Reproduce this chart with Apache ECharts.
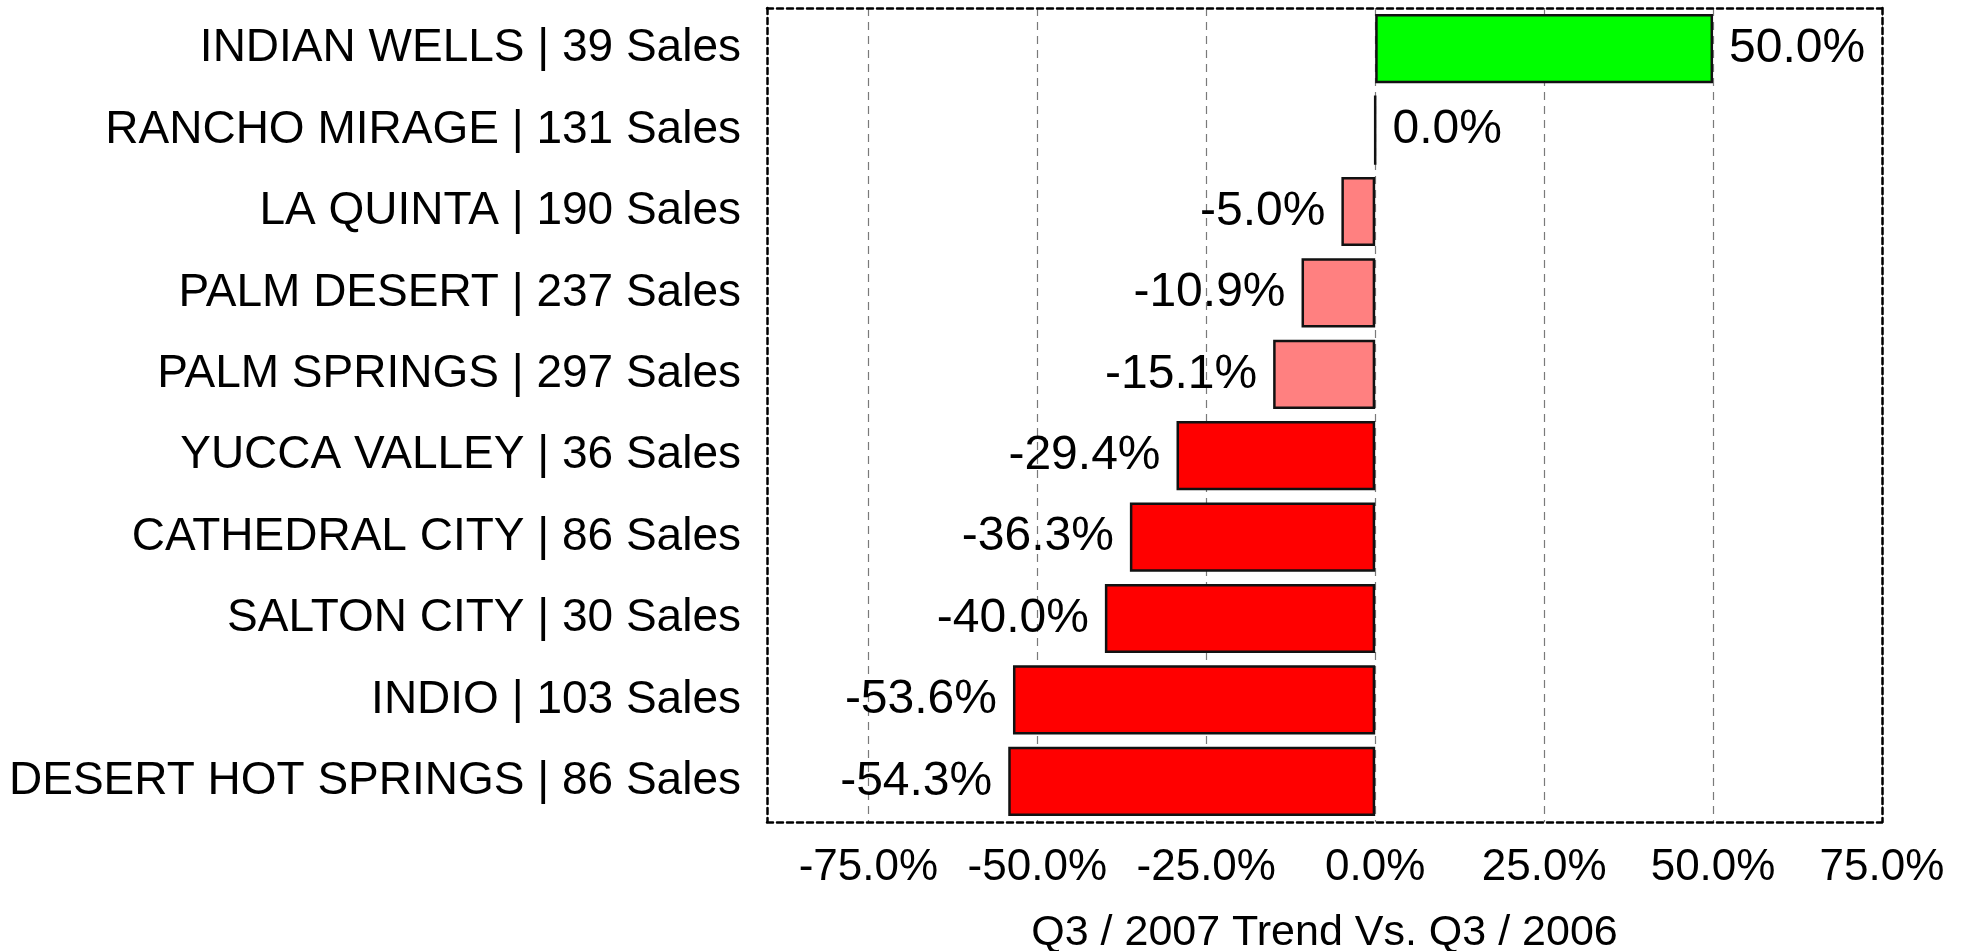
<!DOCTYPE html>
<html>
<head>
<meta charset="utf-8">
<script src="https://cdn.jsdelivr.net/npm/echarts@6/dist/echarts.min.js"></script>
<style>
  html, body { margin: 0; padding: 0; background: #fff; }
  #chart { width: 1961px; height: 951px; }
</style>
</head>
<body>
<div id="chart"></div>
<script>
// cities, top to bottom
const cities = [
  'INDIAN WELLS | 39 Sales',
  'RANCHO MIRAGE | 131 Sales',
  'LA QUINTA | 190 Sales',
  'PALM DESERT | 237 Sales',
  'PALM SPRINGS | 297 Sales',
  'YUCCA VALLEY | 36 Sales',
  'CATHEDRAL CITY | 86 Sales',
  'SALTON CITY | 30 Sales',
  'INDIO | 103 Sales',
  'DESERT HOT SPRINGS | 86 Sales'
];
// trend in percent
const trend = [50.0, 0.0, -5.0, -10.9, -15.1, -29.4, -36.3, -40.0, -53.6, -54.3];
const tickValues = [-75, -50, -25, 0, 25, 50, 75];
const axisTitle = 'Q3 / 2007 Trend Vs. Q3 / 2006';

const chart = echarts.init(document.getElementById('chart'));

// green for growth, pink for small drop, red for big drop
function barColor(v) {
  if (v > 0) return '#00ff00';
  if (v > -20) return '#ff8080';
  return '#ff0000';
}

const font = "'Liberation Sans', Arial, sans-serif";
const border = { color: '#000', width: 2.5, type: [6, 4] };

const option = {
  backgroundColor: '#fff',
  animation: false,
  grid: { left: 767, right: 79, top: 8, bottom: 129, containLabel: false, outerBoundsMode: 'none' },
  xAxis: [{
    type: 'value',
    min: -90,
    max: 75,
    position: 'bottom',
    axisLine: { show: true, lineStyle: border },
    axisTick: { show: false, customValues: tickValues },
    axisLabel: {
      customValues: tickValues,
      formatter: v => v.toFixed(1) + '%',
      fontFamily: font,
      fontSize: 44,
      color: '#000',
      margin: 24
    },
    splitLine: { show: true, lineStyle: { color: '#7a7a7a', width: 1.2, type: [8, 6] } },
    name: axisTitle,
    nameLocation: 'middle',
    nameGap: 90,
    nameTextStyle: { fontFamily: font, fontSize: 43, color: '#000' }
  }, {
    type: 'value',
    min: -90,
    max: 75,
    position: 'top',
    axisLine: { show: true, lineStyle: border },
    axisTick: { show: false },
    axisLabel: { show: false },
    splitLine: { show: false }
  }],
  yAxis: [{
    type: 'category',
    data: cities,
    inverse: true,
    position: 'left',
    axisLine: { show: true, onZero: false, lineStyle: border },
    axisTick: { show: false },
    axisLabel: {
      fontFamily: font,
      fontSize: 46,
      color: '#000',
      margin: 26
    }
  }, {
    type: 'category',
    data: cities,
    inverse: true,
    position: 'right',
    axisLine: { show: true, onZero: false, lineStyle: border },
    axisTick: { show: false },
    axisLabel: { show: false }
  }],
  series: [{
    type: 'bar',
    data: trend.map(v => ({
      value: v,
      itemStyle: { color: barColor(v) },
      label: { position: v < 0 ? 'left' : 'right' }
    })),
    barCategoryGap: '15%',
    itemStyle: { borderColor: '#111', borderWidth: 2.5 },
    label: {
      show: true,
      distance: 16,
      formatter: p => p.value.toFixed(1) + '%',
      fontFamily: font,
      fontSize: 48,
      color: '#000'
    }
  }]
};

chart.setOption(option);
</script>
</body>
</html>
